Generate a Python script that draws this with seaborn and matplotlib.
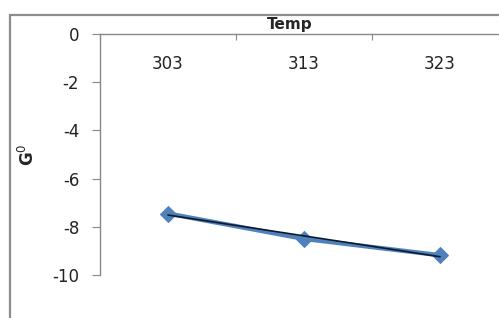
import matplotlib
matplotlib.use("Agg")
import matplotlib.pyplot as plt
import seaborn as sns
import pandas as pd
from matplotlib.lines import Line2D

# values
temps = [303, 313, 323]
g0 = [-7.45, -8.5, -9.18]
ytick_vals = [0, -2, -4, -6, -8, -10]

df = pd.DataFrame({"Temp": temps, "G0": g0})

sns.set_style("white")
plt.rcParams['font.family'] = ['DejaVu Sans']

W, H = 499, 318
fig = plt.figure(figsize=(W / 100, H / 100), dpi=100)
# plot area: left at 100px, top axis at 34px, bottom (-10) at 275px, runs past right edge
ax = fig.add_axes([100 / W, (H - 275) / H, 408 / W, 241 / H])

sns.lineplot(data=df, x="Temp", y="G0", ax=ax, color="#4f81bd", lw=3.2,
             marker="D", markersize=8, markeredgecolor="#4f81bd")
# linear trendline
sns.regplot(data=df, x="Temp", y="G0", ax=ax, scatter=False, ci=None,
            line_kws={"color": "#0d1a2a", "lw": 1.2})

ax.set_ylim(-10, 0)
ax.set_xlim(298, 328)
ax.set_yticks(ytick_vals)
ax.set_yticklabels([str(v) for v in ytick_vals], fontsize=12, color="#222222")

ax.set_xticks(temps)
ax.set_xticklabels([str(t) for t in temps], fontsize=12, color="#222222")
ax.set_xticks([298, 308, 318], minor=True)
ax.xaxis.tick_top()
ax.tick_params(axis="x", which="major", length=0, pad=-28, labeltop=True,
               labelbottom=False)
ax.tick_params(axis="x", which="minor", top=True, bottom=False, direction="in",
               length=4, width=0.8, color="#888888")
ax.tick_params(axis="y", left=True, direction="out", length=6, width=0.8,
               color="#888888", pad=9)

for s in ["right", "bottom"]:
    ax.spines[s].set_visible(False)
for s in ["top", "left"]:
    ax.spines[s].set_color("#888888")
    ax.spines[s].set_linewidth(1.0)

ax.set_xlabel("Temp", fontsize=11, fontweight="bold")
ax.xaxis.set_label_position("top")
ax.xaxis.set_label_coords(190 / 408, 1.01)
ax.xaxis.label.set_va("bottom")
ax.set_ylabel("G$^0$", fontsize=12, fontweight="bold")
ax.yaxis.set_label_coords(-62 / 408, 0.5)

# outer chart frame
fig.add_artist(Line2D([10 / W, 10 / W], [0, (H - 15) / H], transform=fig.transFigure,
                      color="#8c8c8c", lw=1.6))
fig.add_artist(Line2D([10 / W, 1], [(H - 15) / H, (H - 15) / H], transform=fig.transFigure,
                      color="#8c8c8c", lw=1.6))

fig.savefig("out.png", dpi=100)
